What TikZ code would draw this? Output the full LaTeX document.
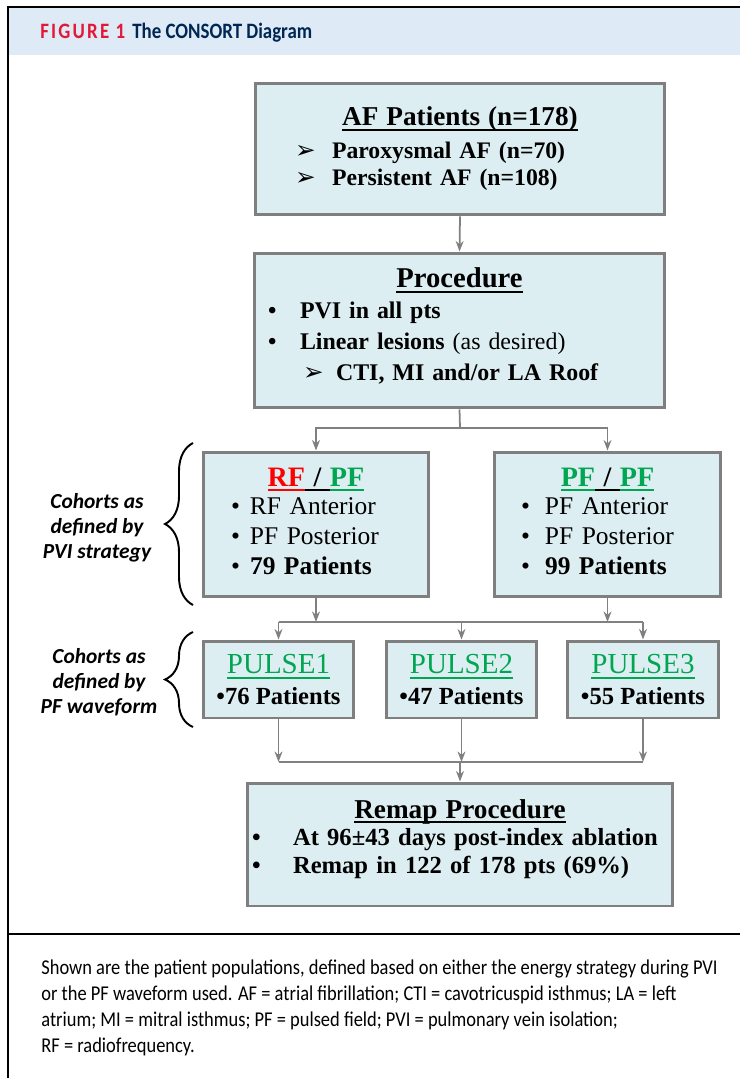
\documentclass[tikz,border=0pt]{standalone}
\usepackage{fontspec}
\setmainfont{Liberation Serif}
\newfontfamily\capsans{Carlito}
\newfontfamily\narrowsans[FakeStretch=0.875]{Carlito}
\newfontfamily\headsans[FakeStretch=0.86]{Carlito}
\newfontfamily\symfont{DejaVu Sans}
\usetikzlibrary{arrows.meta,decorations.pathreplacing}

\definecolor{boxblue}{RGB}{221,238,243}
\definecolor{boxgray}{RGB}{127,127,127}
\definecolor{linegray}{RGB}{128,128,128}
\definecolor{headblue}{RGB}{222,234,246}
\definecolor{rfred}{RGB}{255,0,0}
\definecolor{pfgreen}{RGB}{0,166,81}
\definecolor{figred}{RGB}{227,24,55}
\definecolor{navy}{RGB}{0,38,84}

% underline with fixed position, in the current colour
\newcommand{\ulined}[1]{\leavevmode\setbox0=\hbox{#1}\rlap{\rule[-2.7pt]{\wd0}{1.2pt}}\box0}
\newcommand{\arrbul}{{\symfont\fontsize{14}{14}\selectfont ➢}}
\newcommand{\dpfix}[1]{\rule[-#1]{0pt}{0pt}}

\begin{document}
\begin{tikzpicture}[x=0.02cm, y=-0.02cm,
    box/.style={draw=boxgray, line width=1.7pt, fill=boxblue, inner xsep=0pt, inner ysep=0pt, align=left},
    pulse/.style={draw=boxgray, line width=1.7pt, fill=boxblue, inner sep=0pt, align=center,
        minimum width=3.02cm, minimum height=1.54cm, font=\bfseries\fontsize{14}{17.1}\selectfont},
    cohort/.style={align=center, font=\capsans\bfseries\itshape\fontsize{12.2}{14.2}\selectfont},
    arrow/.style={-{Stealth[length=6pt, width=4.5pt]}, draw=linegray, line width=1pt},
    line/.style={draw=linegray, line width=1pt},
    frame/.style={line width=1.2pt},
    brace/.style={decorate, decoration={brace, amplitude=0.56cm}, line width=1.1pt}
]
    \useasboundingbox (0,0) rectangle (740,1078);

    % header and frame
    \fill[headblue] (9,8) rectangle (740,55);
    \draw[frame] (740,7) -- (8,7) -- (8,1078);
    \draw[frame] (8,934) -- (740,934);
    \node[anchor=base west, inner sep=0pt, font=\headsans\bfseries\fontsize{12.5}{14}\selectfont] (figtitle) at (40,39)
        {{\color{figred}\addfontfeature{LetterSpace=10}FIGURE 1}\hspace{4pt}{\color{navy}The CONSORT Diagram}};

    % boxes
    \node[box, text width=8.2cm, minimum height=2.64cm, font=\bfseries\fontsize{13.5}{15.4}\selectfont] (af) at (460,149) {%
        \noindent\makebox[\hsize]{\fontsize{15.5}{15.4}\selectfont\ulined{AF Patients (n=178)}}\\[3.4pt]
        \hspace*{0.8cm}\makebox[0.74cm][l]{\arrbul}Paroxysmal AF (n=70)\\
        \hspace*{0.8cm}\makebox[0.74cm][l]{\arrbul}Persistent AF (n=108)};
    \node[box, text width=8.22cm, minimum height=3.1cm, font=\bfseries\fontsize{13.6}{17.6}\selectfont] (proc) at (459.5,330.5) {%
        \noindent\makebox[\hsize]{\fontsize{16.3}{17.6}\selectfont\ulined{Procedure}}\\
        \hspace*{0.28cm}\makebox[0.64cm][l]{\textbullet}PVI in all pts\\
        \hspace*{0.28cm}\makebox[0.64cm][l]{\textbullet}Linear lesions {\mdseries (as desired)}\\
        \hspace*{0.98cm}\makebox[0.66cm][l]{\arrbul}CTI, MI and/or LA Roof\dpfix{7pt}};

    \node[box, text width=4.52cm, minimum height=2.9cm, font=\fontsize{14.5}{17.1}\selectfont] (rfpf) at (316,524.5) {%
        \noindent\makebox[\hsize]{\bfseries\fontsize{16}{17.1}\selectfont
            \textcolor{rfred}{\ulined{RF}}\ulined{\ /\ }\textcolor{pfgreen}{\ulined{PF}}}\\[-1.2pt]
        \hspace*{0.56cm}\makebox[0.38cm][l]{\textbullet}RF Anterior\\
        \hspace*{0.56cm}\makebox[0.38cm][l]{\textbullet}PF Posterior\\
        \hspace*{0.56cm}\makebox[0.38cm][l]{\textbullet}\textbf{79 Patients}\dpfix{3.6pt}};
    \node[box, text width=4.54cm, minimum height=2.9cm, font=\fontsize{14.5}{17.1}\selectfont] (pfpf) at (607.5,524.5) {%
        \noindent\makebox[\hsize]{\bfseries\fontsize{16}{17.1}\selectfont
            \textcolor{pfgreen}{\ulined{PF}}\ulined{\ /\ }\textcolor{pfgreen}{\ulined{PF}}}\\[-1.2pt]
        \hspace*{0.54cm}\makebox[0.48cm][l]{\textbullet}PF Anterior\\
        \hspace*{0.54cm}\makebox[0.48cm][l]{\textbullet}PF Posterior\\
        \hspace*{0.54cm}\makebox[0.48cm][l]{\textbullet}\textbf{99 Patients}\dpfix{3.6pt}};

    \node[pulse] (pulse1) at (278.5,679.5) {{\mdseries\fontsize{16.5}{17.1}\selectfont\textcolor{pfgreen}{\ulined{PULSE1}}}\\\textbullet76 Patients};
    \node[pulse] (pulse2) at (461.5,679.5) {{\mdseries\fontsize{16.5}{17.1}\selectfont\textcolor{pfgreen}{\ulined{PULSE2}}}\\\textbullet47 Patients};
    \node[pulse] (pulse3) at (643,679.5)   {{\mdseries\fontsize{16.5}{17.1}\selectfont\textcolor{pfgreen}{\ulined{PULSE3}}}\\\textbullet55 Patients};

    \node[box, text width=8.52cm, minimum height=2.46cm, font=\bfseries\fontsize{14}{15.6}\selectfont] (remap) at (460,844.5) {%
        \noindent\makebox[\hsize]{\fontsize{15.5}{15.6}\selectfont\ulined{Remap Procedure}}\\[0.3pt]
        \hspace*{0.1cm}\makebox[0.82cm][l]{\textbullet}At 96±43 days post-index ablation\\
        \hspace*{0.1cm}\makebox[0.82cm][l]{\textbullet}Remap in 122 of 178 pts (69\%)\dpfix{9.4pt}};

    % cohort braces
    \draw[brace] (193,605) -- (193,443);
    \node[cohort] (lblpvi) at (97,528) {Cohorts as\\defined by\\PVI strategy};
    \draw[brace] (193,727) -- (193,632);
    \node[cohort] (lblpf) at (99,682) {Cohorts as\\defined by\\PF waveform};

    % connectors
    \coordinate (split) at (460,428);
    \coordinate (merge) at (460,622);
    \coordinate (join)  at (460,762);
    \draw[arrow] (af.south) -- (proc.north);
    \draw[line] (proc.south) -- (split);
    \draw[arrow] (split) -| (rfpf.north);
    \draw[arrow] (split) -| (pfpf.north);
    \draw[arrow] (rfpf.south) -- (rfpf.south |- merge);
    \draw[arrow] (pfpf.south) -- (pfpf.south |- merge);
    \draw[line] (pulse1.north |- merge) -- (pulse3.north |- merge);
    \foreach \p in {pulse1,pulse2,pulse3} {
        \draw[arrow] (\p.north |- merge) -- (\p.north);
        \draw[arrow] (\p.south) -- (\p.south |- join);
    }
    \draw[line] (pulse1.south |- join) -- (pulse3.south |- join);
    \draw[arrow] (join) -- (remap.north);

    % caption
    \node[anchor=base west, inner sep=0pt, align=left, font=\narrowsans\fontsize{12}{14.8}\selectfont] (caption) at (41,1052)
        {Shown are the patient populations, defined based on either the energy strategy during PVI\\
         or the PF waveform used. AF = atrial fibrillation; CTI = cavotricuspid isthmus; LA = left\\
         atrium; MI = mitral isthmus; PF = pulsed field; PVI = pulmonary vein isolation;\\
         RF = radiofrequency.};
\end{tikzpicture}
\end{document}
